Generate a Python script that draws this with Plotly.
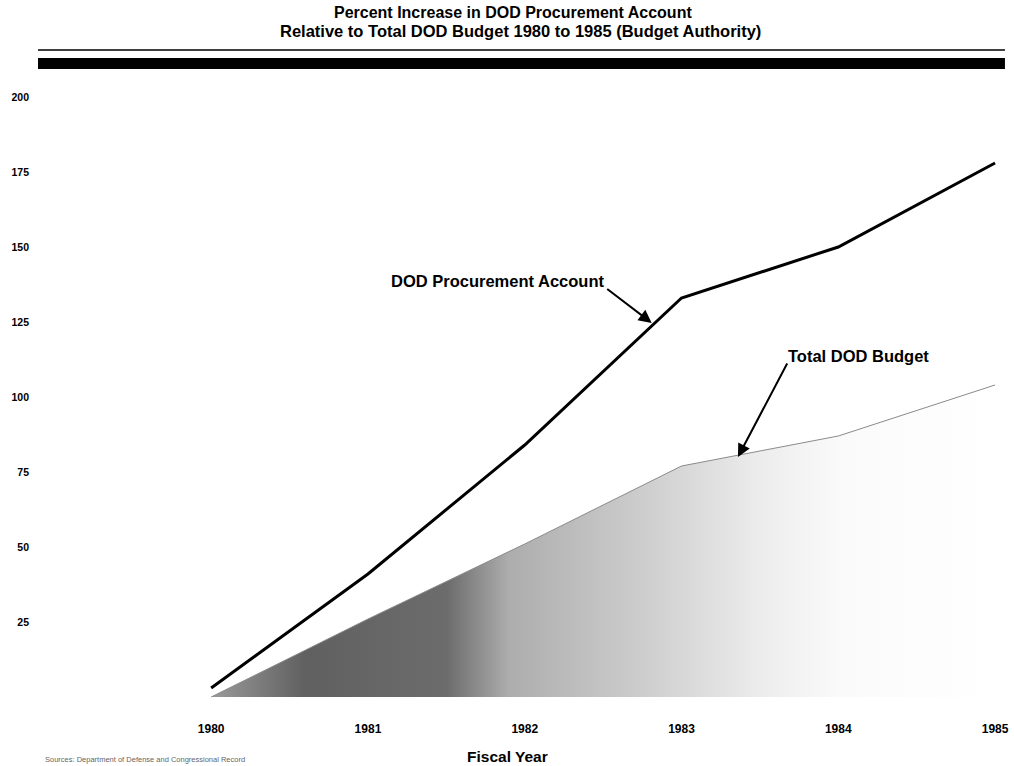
import plotly.graph_objects as go

years = [1980, 1981, 1982, 1983, 1984, 1985]
procurement = [3, 41, 84, 133, 150, 178]
total_budget = [0, 26, 51, 77, 87, 104]

y_ticks = [25, 50, 75, 100, 125, 150, 175, 200]
y_ticktext = ["25", "50", "75", "100", "125", "150", "175", "200"]
x_ticktext = ["1980", "1981", "1982", "1983", "1984", "1985"]

title_line1 = "Percent Increase in DOD Procurement Account"
title_line2 = "Relative to Total DOD Budget 1980 to 1985 (Budget Authority)"

fig = go.Figure()

fig.add_trace(go.Scatter(
    x=years, y=total_budget, mode="lines", name="Total DOD Budget",
    line=dict(color="#8a8a8a", width=1),
    fill="tozeroy",
    fillgradient=dict(type="horizontal",
                      colorscale=[[0, "#9a9a9a"], [0.12, "#606060"], [0.3, "#6c6c6c"],
                                  [0.38, "#adadad"], [0.55, "#cdcdcd"], [0.7, "#ececec"],
                                  [0.8, "#fafafa"], [1, "#ffffff"]]),
    hoverinfo="skip", showlegend=False,
))

fig.add_trace(go.Scatter(
    x=years, y=procurement, mode="lines", name="DOD Procurement Account",
    line=dict(color="#000000", width=3),
    showlegend=False,
))

font_main = "Liberation Sans, Arial, Helvetica, sans-serif"

fig.update_layout(
    width=1014, height=766,
    paper_bgcolor="white", plot_bgcolor="white",
    margin=dict(l=45, r=5, t=90, b=54),
    font=dict(family=font_main, color="#000000"),
    xaxis=dict(range=[1978.940, 1985.057], tickvals=years, ticktext=x_ticktext,
               showgrid=False, zeroline=False, showline=False, ticks="",
               ticklabelstandoff=8, ticklabeloverflow="allow",
               tickfont=dict(size=12, weight="bold"), fixedrange=True),
    yaxis=dict(range=[-5, 202.33], tickvals=y_ticks, ticktext=y_ticktext,
               showgrid=False, zeroline=False, showline=False, ticks="",
               ticklabelstandoff=15,
               tickfont=dict(size=10.5, weight="bold"), fixedrange=True),
    shapes=[
        dict(type="line", xref="paper", yref="paper", x0=-0.0073, x1=1.001,
             y0=1.0643, y1=1.0643, line=dict(color="black", width=1.5)),
        dict(type="rect", xref="paper", yref="paper", x0=-0.0073, x1=1.001,
             y0=1.0338, y1=1.0514, fillcolor="black", line=dict(width=0)),
    ],
    annotations=[
        dict(text=title_line1, xref="paper", yref="paper", x=0.4876, y=1.1238,
             xanchor="center", yanchor="middle", showarrow=False,
             font=dict(size=16, weight="bold")),
        dict(text=title_line2, xref="paper", yref="paper", x=0.4955, y=1.0949,
             xanchor="center", yanchor="middle", showarrow=False,
             font=dict(size=16.5, weight="bold")),
        # arrows
        dict(text="", x=1982.81, y=124.7, ax=-46, ay=-35, showarrow=True,
             arrowhead=2, arrowsize=1.3, arrowwidth=2, arrowcolor="black", standoff=0),
        dict(text="", x=1983.36, y=80, ax=50, ay=-95, showarrow=True,
             arrowhead=2, arrowsize=1.3, arrowwidth=2, arrowcolor="black", standoff=0),
        # labels
        dict(text="DOD Procurement Account", x=1981.827, y=138.7, xanchor="center",
             yanchor="middle", showarrow=False, font=dict(size=16.5, weight="bold")),
        dict(text="Total DOD Budget", x=1984.131, y=113.7, xanchor="center",
             yanchor="middle", showarrow=False, font=dict(size=16.5, weight="bold")),
        dict(text="Fiscal Year", xref="paper", yref="paper", x=0.482, y=-0.0723,
             xanchor="center", yanchor="middle", showarrow=False,
             font=dict(size=15.5, weight="bold")),
        dict(text="Sources: Department of Defense and Congressional Record", xref="paper",
             yref="paper", x=-0.002, y=-0.0756, xanchor="left", yanchor="middle",
             showarrow=False, font=dict(size=7.5, color="#666666")),
    ],
)

fig.write_html("out.html", config={"displayModeBar": False},
               post_script="document.body.style.margin='0';document.body.style.padding='0';")
